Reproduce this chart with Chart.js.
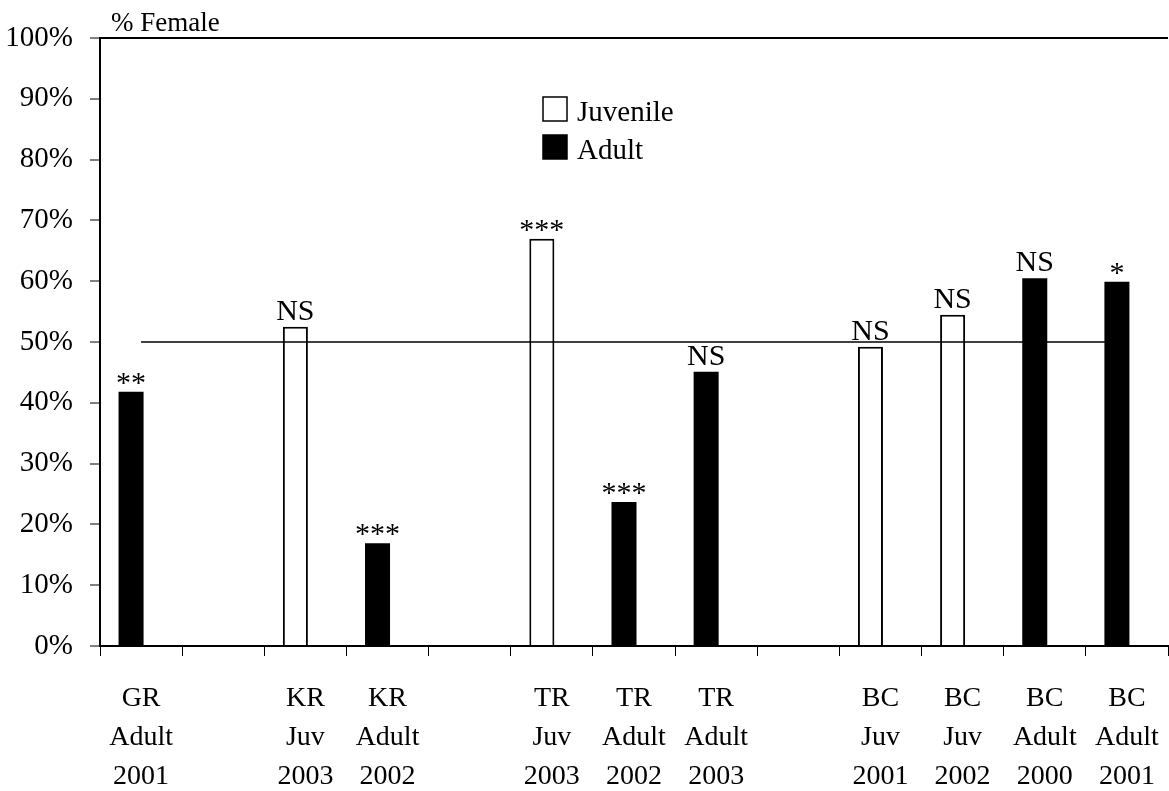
<!DOCTYPE html>
<html>
<head>
<meta charset="utf-8">
<title>% Female</title>
<script src="https://cdn.jsdelivr.net/npm/chart.js@4/dist/chart.umd.min.js"></script>
<style>
  html, body { margin: 0; padding: 0; background: #fff; }
  #myChart { display: block; }
</style>
</head>
<body>
<canvas id="myChart" width="1169" height="791"></canvas>
<script>
// valores
const categories = [
  ['GR', 'Adult', '2001'], '', ['KR', 'Juv', '2003'], ['KR', 'Adult', '2002'], '',
  ['TR', 'Juv', '2003'], ['TR', 'Adult', '2002'], ['TR', 'Adult', '2003'], '',
  ['BC', 'Juv', '2001'], ['BC', 'Juv', '2002'], ['BC', 'Adult', '2000'], ['BC', 'Adult', '2001']
];
const juvenile = [null, null, 52.5, null, null, 67.0, null, null, null, 49.2, 54.5, null, null];
const adult = [41.8, null, null, 16.9, null, null, 23.7, 45.1, null, null, null, 60.5, 59.9];
const significance = ['**', '', 'NS', '***', '', '***', '***', 'NS', '', 'NS', 'NS', 'NS', '*'];
const reference = [50, 50, 50, 50, 50, 50, 50, 50, 50, 50, 50, 50, 50];
const yTicks = [0, 10, 20, 30, 40, 50, 60, 70, 80, 90, 100];
const yTitle = '% Female';

const FONT = 'Liberation Serif, Times New Roman, serif';

document.addEventListener('DOMContentLoaded', function() {
const canvas = document.getElementById('myChart');

// rótulos de significância em cima das barras
const sigLabels = {
  id: 'sigLabels',
  afterDatasetsDraw(chart) {
    const ctx = chart.ctx;
    const juvMeta = chart.getDatasetMeta(0);
    const adMeta = chart.getDatasetMeta(1);
    ctx.save();
    ctx.fillStyle = '#000';
    ctx.textAlign = 'center';
    ctx.textBaseline = 'alphabetic';
    significance.forEach((txt, i) => {
      if (!txt) return;
      const bar = juvenile[i] != null ? juvMeta.data[i] : adMeta.data[i];
      if (!bar) return;
      const star = txt.charAt(0) === '*';
      ctx.font = (star ? '30px ' : '30px ') + FONT;
      ctx.fillText(txt, bar.x, bar.y - (star ? 0 : 7));
    });
    ctx.restore();
  }
};

// legenda dentro da área do gráfico + título do eixo
const extras = {
  id: 'extras',
  afterDraw(chart) {
    const ctx = chart.ctx;
    ctx.save();
    ctx.fillStyle = '#000';
    ctx.textBaseline = 'alphabetic';
    ctx.textAlign = 'left';
    ctx.font = '27px ' + FONT;
    ctx.fillText(yTitle, 111, 31);

    const items = [chart.data.datasets[0], chart.data.datasets[1]];
    const x0 = 543, size = 24;
    items.forEach((ds, k) => {
      const base = 121 + k * 38;
      ctx.fillStyle = ds.backgroundColor;
      ctx.fillRect(x0, base - size, size, size);
      ctx.strokeStyle = '#000';
      ctx.lineWidth = 1.5;
      ctx.strokeRect(x0, base - size, size, size);
      ctx.fillStyle = '#000';
      ctx.font = '29px ' + FONT;
      ctx.fillText(ds.label, 577, base);
    });
    ctx.restore();
  }
};

new Chart(canvas, {
  type: 'bar',
  data: {
    labels: categories,
    datasets: [
      {
        label: 'Juvenile',
        data: juvenile,
        backgroundColor: '#ffffff',
        borderColor: '#000000',
        borderWidth: 2,
        stack: 'main',
        order: 1
      },
      {
        label: 'Adult',
        data: adult,
        backgroundColor: '#000000',
        borderColor: '#000000',
        borderWidth: 0,
        stack: 'main',
        order: 1
      },
      {
        // grupo vazio só para empurrar as barras para a esquerda
        label: '',
        data: categories.map(() => null),
        stack: 'pad',
        order: 1
      },
      {
        type: 'line',
        label: '50%',
        data: reference,
        borderColor: '#000000',
        borderWidth: 1.5,
        pointRadius: 0,
        fill: false,
        order: 0
      }
    ]
  },
  options: {
    responsive: false,
    animation: false,
    devicePixelRatio: 1,
    categoryPercentage: 0.4873,
    barPercentage: 1.25,
    layout: { padding: { top: 38, right: 1, left: 0, bottom: 0 } },
    plugins: {
      legend: { display: false },
      tooltip: { enabled: false }
    },
    scales: {
      x: {
        grid: {
          offset: true,
          drawOnChartArea: false,
          color: '#000',
          lineWidth: 1,
          tickLength: 10
        },
        border: { color: '#000', width: 2 },
        ticks: {
          color: '#000',
          font: { family: FONT, size: 28, lineHeight: 1.4 },
          padding: 23,
          maxRotation: 0,
          autoSkip: false
        },
        afterFit(scale) {
          scale.height = 145;
          scale.paddingLeft = 0;
          scale.paddingRight = 0;
        }
      },
      y: {
        min: 0,
        max: 100,
        stacked: false,
        afterBuildTicks(scale) { scale.ticks = yTicks.map(v => ({ value: v })); },
        grid: {
          color: (c) => (c.tick && c.tick.value === 100 ? '#000' : 'rgba(0,0,0,0)'),
          lineWidth: 2,
          tickColor: '#000',
          tickWidth: 1,
          tickLength: 10
        },
        border: { color: '#000', width: 2 },
        ticks: {
          color: '#000',
          font: { family: FONT, size: 29 },
          padding: 17,
          callback: (v) => v + '%'
        },
        afterFit(scale) { scale.width = 100; }
      }
    }
  },
  plugins: [sigLabels, extras]
});
});
</script>
</body>
</html>
